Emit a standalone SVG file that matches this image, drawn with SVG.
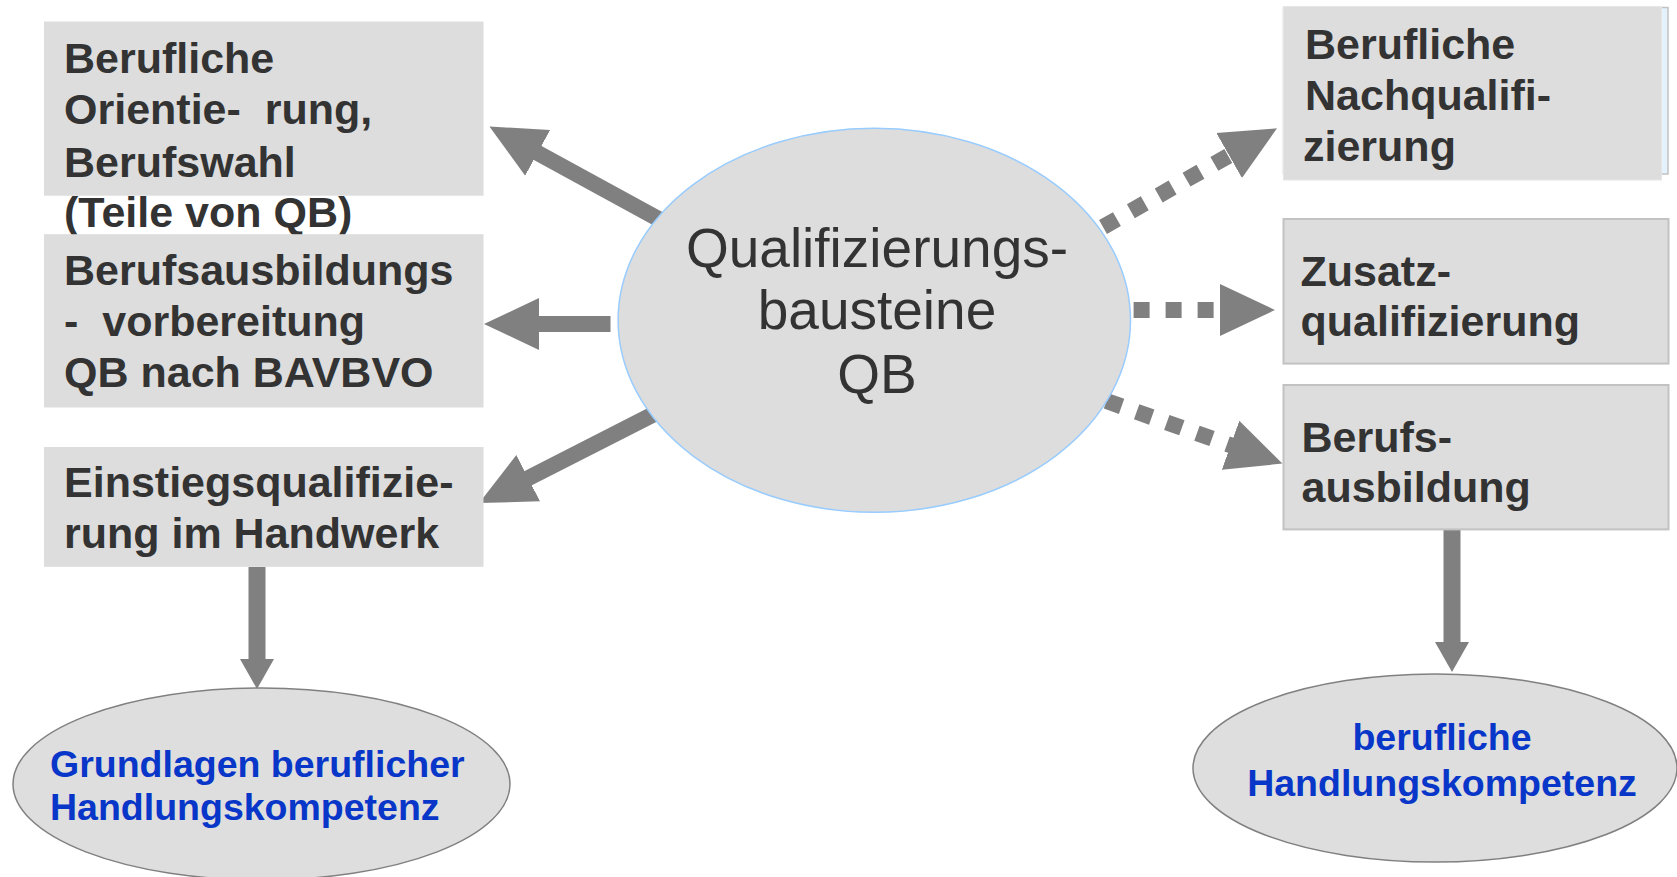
<svg xmlns="http://www.w3.org/2000/svg" width="1677" height="877" viewBox="0 0 1677 877">
  <style>
    .box { fill: #dddddd; }
    .boxb { fill: #dddddd; stroke: #c2c2c2; stroke-width: 2; }
    .lbl { font-family: "Liberation Sans", Arial, sans-serif; font-weight: bold; font-size: 43px; fill: #333333; white-space: pre; }
    .mid { font-family: "Liberation Sans", Arial, sans-serif; font-size: 55px; fill: #333333; text-anchor: middle; }
    .blue { font-family: "Liberation Sans", Arial, sans-serif; font-weight: bold; font-size: 37.5px; fill: #0836c8; }
    .conn { stroke: #808080; stroke-width: 16; fill: none; stroke-linecap: butt; }
    .dot { stroke-dasharray: 16 16; }
    .res { fill: #dedede; stroke: #808080; stroke-width: 1.5; }
  </style>
  <defs>
    <marker id="head" markerUnits="userSpaceOnUse" markerWidth="60" markerHeight="60" viewBox="0 -30 60 60" refX="1" refY="0" orient="auto">
      <path d="M0,-26 L55,0 L0,26 z" fill="#808080"/>
    </marker>
    <marker id="headS" markerUnits="userSpaceOnUse" markerWidth="40" markerHeight="40" viewBox="0 -20 40 40" refX="1" refY="0" orient="auto">
      <path d="M0,-17 L30,0 L0,17 z" fill="#808080"/>
    </marker>
  </defs>

  <g id="connectors">
    <line class="conn" x1="664" y1="222" x2="536.8" y2="152.4" marker-end="url(#head)"/>
    <line class="conn" x1="610.5" y1="324" x2="538" y2="324" marker-end="url(#head)"/>
    <line class="conn" x1="656" y1="413" x2="527.3" y2="478.6" marker-end="url(#head)"/>
    <line class="conn dot" x1="1103" y1="227" x2="1230" y2="155" marker-end="url(#head)"/>
    <line class="conn dot" x1="1133.6" y1="310" x2="1221" y2="310" marker-end="url(#head)"/>
    <line class="conn dot" x1="1106.5" y1="401" x2="1231.5" y2="445.5" marker-end="url(#head)"/>
    <line class="conn" style="stroke-width:17" x1="257" y1="567" x2="257" y2="660" marker-end="url(#headS)"/>
    <line class="conn" style="stroke-width:17" x1="1452" y1="529" x2="1452" y2="643" marker-end="url(#headS)"/>
  </g>

  <g id="qb-center">
    <ellipse cx="874.3" cy="320.3" rx="256.2" ry="192" fill="#dddddd" stroke="#99ccff" stroke-width="1.5"/>
    <text class="mid" x="877" y="267">Qualifizierungs-</text>
    <text class="mid" x="877" y="329">bausteine</text>
    <text class="mid" x="877" y="393">QB</text>
  </g>

  <g id="orientierung">
    <rect class="box" x="44" y="21.5" width="439.5" height="174.2"/>
    <text class="lbl" x="64" y="72.7">Berufliche</text>
    <text class="lbl" x="64" y="124">Orientie-  rung,</text>
    <text class="lbl" x="64" y="176.5">Berufswahl</text>
    <text class="lbl" x="64" y="226.7">(Teile von QB)</text>
  </g>

  <g id="bvb">
    <rect class="box" x="44" y="234.2" width="439.5" height="173.3"/>
    <text class="lbl" x="64" y="284.5">Berufsausbildungs</text>
    <text class="lbl" x="64" y="335.8">-  vorbereitung</text>
    <text class="lbl" x="64" y="387">QB nach BAVBVO</text>
  </g>

  <g id="eq">
    <rect class="box" x="44" y="447" width="439.5" height="119.8"/>
    <text class="lbl" x="64" y="497.3">Einstiegsqualifizie-</text>
    <text class="lbl" x="64" y="547.6">rung im Handwerk</text>
  </g>

  <g id="nachqualifizierung">
    <rect x="1283.5" y="7.5" width="384.5" height="166.5" fill="#e3f2fd" stroke="#c2c2c2" stroke-width="1.5"/>
    <rect class="box" x="1283.5" y="6.5" width="378" height="173.5" stroke="#e6e6e6" stroke-width="1"/>
    <text class="lbl" x="1305" y="58.5">Berufliche</text>
    <text class="lbl" x="1305" y="109.5">Nachqualifi-</text>
    <text class="lbl" x="1303" y="161">zierung</text>
  </g>

  <g id="zusatz">
    <rect class="boxb" x="1283.5" y="219" width="385" height="144.6"/>
    <text class="lbl" x="1300.5" y="285.7">Zusatz-</text>
    <text class="lbl" x="1300.5" y="335.7">qualifizierung</text>
  </g>

  <g id="berufsausbildung">
    <rect class="boxb" x="1283.5" y="385" width="385" height="144.4"/>
    <text class="lbl" x="1301.5" y="451.8">Berufs-</text>
    <text class="lbl" x="1301.5" y="501.8">ausbildung</text>
  </g>

  <g id="grundlagen">
    <ellipse class="res" cx="261.5" cy="784" rx="248.5" ry="96"/>
    <text class="blue" x="50" y="776.5">Grundlagen beruflicher</text>
    <text class="blue" x="50" y="820">Handlungskompetenz</text>
  </g>

  <g id="handlungskompetenz">
    <ellipse class="res" cx="1435" cy="768" rx="242" ry="94"/>
    <text class="blue" x="1442" y="750" text-anchor="middle">berufliche</text>
    <text class="blue" x="1442" y="795.5" text-anchor="middle">Handlungskompetenz</text>
  </g>
</svg>
